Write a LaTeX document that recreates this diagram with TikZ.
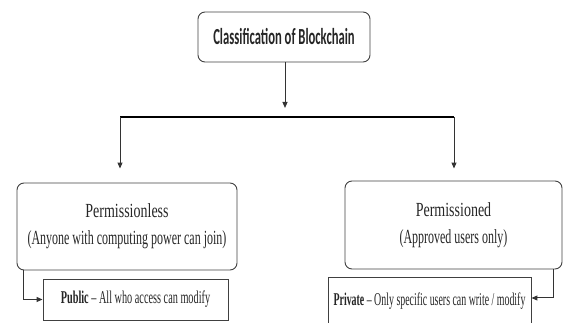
\documentclass[tikz,border=0pt]{standalone}
\usepackage{fontspec}
\setmainfont{Liberation Serif}
\newfontfamily\fA[FakeStretch=0.7]{Liberation Serif}
\newfontfamily\fB[FakeStretch=0.6]{Liberation Serif}
\newfontfamily\fC[FakeStretch=0.57]{Liberation Serif}
\newfontfamily\fD[FakeStretch=0.55]{Liberation Serif}
\newfontfamily\fT[FakeStretch=0.55]{Carlito}
\usetikzlibrary{arrows.meta,calc}
\tikzset{
  box/.style={draw=black!75, line width=0.9pt, rounded corners=7pt, align=center, inner sep=0pt},
  sqbox/.style={draw=black!75, line width=0.9pt, align=center, inner sep=0pt},
  conn/.style={draw=black!80, line width=1pt, -{Triangle[length=6pt,width=5pt]}},
  bar/.style={draw=black, line width=2pt},
}
\begin{document}
\begin{tikzpicture}[x=1pt,y=-1pt]
\useasboundingbox (0,0) rectangle (563,323);
\node[box, minimum width=172pt, minimum height=50pt, text=black!85, font=\fT\bfseries\fontsize{23}{26}\selectfont] (top) at (284,37) {Classification of Blockchain};
\node[box, minimum width=220pt, minimum height=87pt, text=black!85, font=\fontsize{20}{27}\selectfont] (left) at (127,226.5) {{\fA Permissionless}\\{\fB (Anyone with computing power can join)}};
\node[box, minimum width=217pt, minimum height=88pt, text=black!85, font=\fontsize{20}{27}\selectfont] (right) at (453.5,225) {{\fA Permissioned}\\{\fB (Approved users only)}};
\node[sqbox, minimum width=185pt, minimum height=41pt, text=black!85, font=\fC\fontsize{18}{20}\selectfont] (pub) at (135.5,299.5) {\textbf{Public} – All who access can modify};
\node[sqbox, minimum width=203pt, minimum height=48pt, text=black!85, font=\fD\fontsize{18}{20}\selectfont] (priv) at (429.5,301) {\textbf{Private} – Only specific users can write / modify};
\coordinate (barL) at (120,117);
\coordinate (barM) at (285,117);
\coordinate (barR) at (454,117);
\coordinate (pubx) at (23,0);
\coordinate (privx) at (553,0);
\draw[conn, shorten >=9pt] (top.south -| barM) -- (barM);
\draw[bar] (barL) -- (barR);
\draw[conn, shorten >=14pt] (barL) -- (barL |- left.north);
\draw[conn, shorten >=12pt] (barR) -- (barR |- right.north);
\draw[conn] (left.south -| pubx) |- (pub.west);
\draw[conn] (right.south -| privx) |- ($(priv.east)+(0,-3)$);
\end{tikzpicture}
\end{document}
